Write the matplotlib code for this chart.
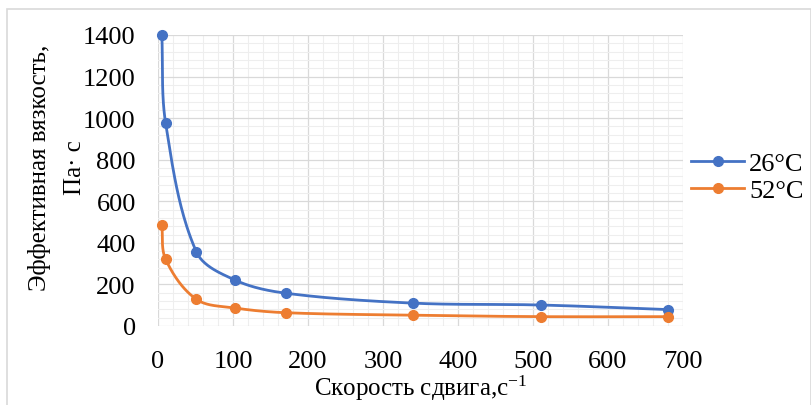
import numpy as np
import matplotlib
matplotlib.use("Agg")
import matplotlib.pyplot as plt
from matplotlib.patches import Rectangle

plt.rcParams['font.family'] = ['Liberation Serif', 'DejaVu Serif']
plt.rcParams['mathtext.fontset'] = 'custom'
plt.rcParams['mathtext.rm'] = 'Liberation Serif'
plt.rcParams['mathtext.default'] = 'regular'

# данные: скорость сдвига и эффективная вязкость
shear_rate = [5.1, 10.2, 51, 102, 170, 340, 510, 680]
visc_26 = [1400, 975, 358, 222, 158, 110, 101, 79]
visc_52 = [488, 321, 129, 87, 64, 52, 45, 45]
labels = ['26°C', '52°C']
colors = ['#4472C4', '#ED7D31']


def smooth(ax, x, y, n=40):
    # сглаживание в пиксельных координатах (касательная по соседям, Bezier)
    p = ax.transData.transform(np.column_stack([x, y]).astype(float))
    t = np.linspace(0, 1, n)[:, None]
    out = []
    m = len(p)
    tang = []
    for i in range(m):
        d = p[min(i + 1, m - 1)] - p[max(i - 1, 0)]
        tang.append(d / np.hypot(*d))
    for i in range(m - 1):
        p1, p2 = p[i], p[i + 1]
        L = np.hypot(*(p2 - p1))
        c1 = p1 + tang[i] * L / 3
        c2 = p2 - tang[i + 1] * L / 3
        seg = ((1 - t) ** 3) * p1 + 3 * ((1 - t) ** 2) * t * c1 + 3 * (1 - t) * t ** 2 * c2 + t ** 3 * p2
        out.append(seg)
    out = ax.transData.inverted().transform(np.vstack(out))
    return out[:, 0], out[:, 1]


fig = plt.figure(figsize=(8.11, 4.06), dpi=100)
ax = fig.add_axes([158 / 811, 1 - 327 / 406, 525 / 811, 291 / 406])
ax.set_xlim(0, 700)
ax.set_ylim(0, 1400)

for yv, lab, c in zip([visc_26, visc_52], labels, colors):
    sx, sy = smooth(ax, shear_rate, yv)
    ax.plot(sx, sy, color=c, lw=2, zorder=3, solid_capstyle='round')
    ax.plot(shear_rate, yv, 'o', color=c, ms=7, zorder=4, clip_on=False)
    ax.plot([], [], color=c, lw=2, marker='o', ms=7, label=lab)

ax.set_xticks(np.arange(0, 701, 100))
ax.set_yticks(np.arange(0, 1401, 200))
ax.set_xticks(np.arange(0, 701, 20), minor=True)
ax.set_yticks(np.arange(0, 1401, 40), minor=True)
ax.grid(which='major', color='#D9D9D9', lw=0.9, zorder=1)
ax.grid(which='minor', color='#EEEEEE', lw=0.8, zorder=0)
ax.set_axisbelow(True)
for s in ax.spines.values():
    s.set_visible(False)
ax.tick_params(which='both', length=0, labelsize=19)
ax.tick_params(axis='y', pad=16)
ax.tick_params(axis='x', pad=17)

ax.set_xlabel('Скорость сдвига,с$^{-1}$', fontsize=18, labelpad=1)
fig.text(57 / 811, 1 - 168 / 406, 'Эффективная вязкость,\nПа· с', rotation=90,
         ha='center', va='center', fontsize=18, multialignment='center', linespacing=1.8)

fig.legend(loc='center left', bbox_to_anchor=(678 / 811, 1 - 178 / 406), frameon=False,
           fontsize=19, handlelength=2.0, handletextpad=0.2, labelspacing=0.15, borderpad=0)

fig.add_artist(Rectangle((6.5 / 811, -0.05), 804 / 811, 1.05 - 9.5 / 406, transform=fig.transFigure,
                         fill=False, edgecolor='#D9D9D9', lw=1.2))

fig.savefig('out.png', dpi=100)
